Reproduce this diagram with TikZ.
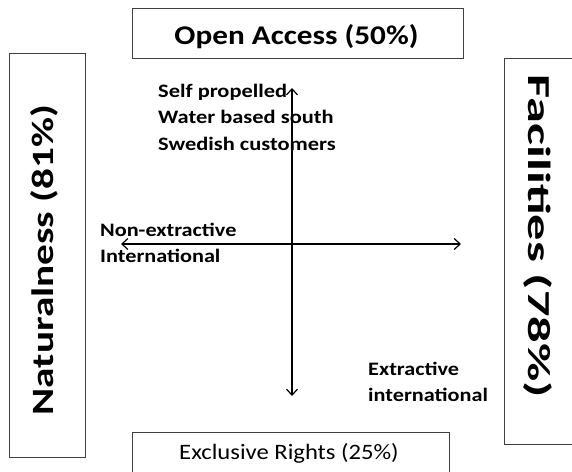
\documentclass[tikz,border=0pt]{standalone}
\usepackage{fontspec}
\setmainfont{Carlito}
\usetikzlibrary{arrows.meta}
\newcommand{\hstretch}[2]{\scalebox{#1}[1]{#2}}
\begin{document}
\begin{tikzpicture}[x=1pt,y=1pt,
  framebox/.style={draw=black!75,line width=0.9pt},
  axis/.style={line width=1.4pt,{Straight Barb[length=6pt,width=11pt,line width=1.2pt]}-{Straight Barb[length=6pt,width=11pt,line width=1.2pt]}},
  lab/.style={font=\bfseries\fontsize{19}{26.5}\selectfont,inner sep=0pt,anchor=base west},
  big/.style={font=\bfseries\fontsize{31}{34}\selectfont,inner sep=0pt,anchor=base}
]
\useasboundingbox (0,0) rectangle (572,-471);
\fill[white] (0,0) rectangle (572,-471);
\begin{scope}
\clip (0,0) rectangle (572,-471);
\draw[framebox] (132,-8) rectangle (463,-58);
\draw[framebox] (9,-53) rectangle (85,-457);
\draw[framebox] (504,-58) rectangle (590,-444);
\draw[framebox] (132,-432) rectangle (449,-490);
\end{scope}
\node[font=\bfseries\fontsize{27}{30}\selectfont,inner sep=0pt,anchor=base] (open) at (296.5,-44) {\hstretch{1.157}{Open Access (50\%)}};
\node[font=\fontsize{22}{25}\selectfont,inner sep=0pt,anchor=base] (excl) at (289,-459) {\hstretch{1.12}{Exclusive Rights (25\%)}};
\node[big,rotate=90] (nat) at (53,-260) {\hstretch{1.33}{Naturalness (81\%)}};
\node[big,rotate=-90,font=\bfseries\fontsize{32}{34}\selectfont] (fac) at (528,-236.5) {\hstretch{1.64}{Facilities (78\%)}};
\coordinate (top) at (292,-88);
\coordinate (bot) at (292,-396);
\coordinate (lft) at (121,-244);
\coordinate (rgt) at (461,-244);
\draw[axis] (top) -- (bot);
\draw[axis] (lft) -- (rgt);
\node[lab] (self) at (158,-97) {\hstretch{1.18}{\begin{tabular}[t]{@{}l@{}}Self propelled\\Water based south\\Swedish customers\end{tabular}}};
\node[lab] (non) at (100,-236) {\hstretch{1.17}{\begin{tabular}[t]{@{}l@{}}Non-extractive\\International\end{tabular}}};
\node[lab] (ext) at (368,-375) {\hstretch{1.17}{\begin{tabular}[t]{@{}l@{}}Extractive\\international\end{tabular}}};
\end{tikzpicture}
\end{document}
